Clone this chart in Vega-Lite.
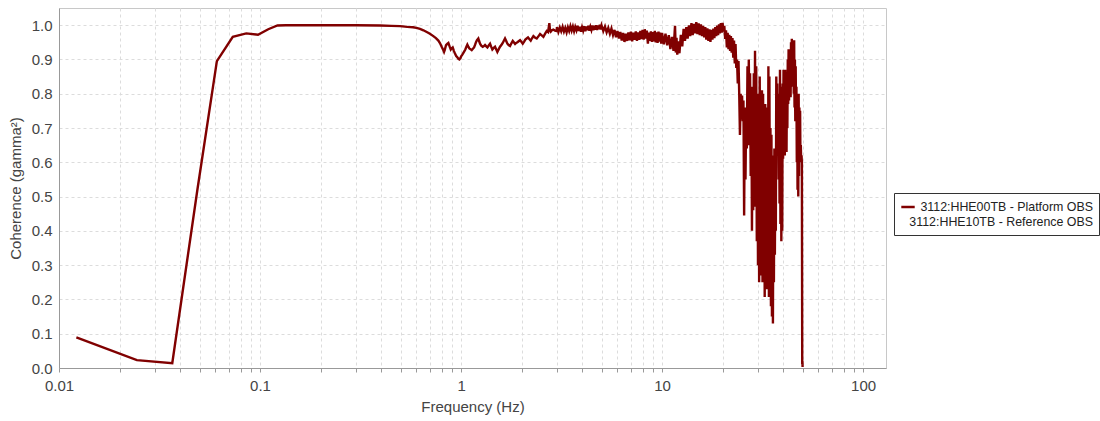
{
  "$schema": "https://vega.github.io/schema/vega-lite/v6.json",
  "width": 827,
  "height": 360,
  "autosize": {"type": "none"},
  "padding": {"left": 59, "top": 8, "right": 214, "bottom": 53},
  "config": {
    "font": "Liberation Sans",
    "view": {"stroke": "#c8c8c8", "strokeWidth": 1},
    "axis": {
      "gridColor": "#dcdcdc",
      "gridDash": [3, 3],
      "gridWidth": 1,
      "domainColor": "#999999",
      "tickColor": "#999999",
      "labelColor": "#444444",
      "titleColor": "#444444",
      "labelFont": "Liberation Sans",
      "titleFont": "Liberation Sans",
      "labelFontSize": 15,
      "titleFontSize": 15,
      "titleFontWeight": "normal"
    },
    "style": {"guide-label": {"lineHeight": 15}}
  },
  "data": {
    "values": [
      {"f": 0.0122, "c": 0.089}, {"f": 0.0244, "c": 0.023}, {"f": 0.0366, "c": 0.014}, {"f": 0.0488, "c": 0.52},
      {"f": 0.061, "c": 0.895}, {"f": 0.0732, "c": 0.966}, {"f": 0.0854, "c": 0.976}, {"f": 0.0977, "c": 0.972},
      {"f": 0.1099, "c": 0.988}, {"f": 0.1221, "c": 0.999}, {"f": 0.1343, "c": 0.9995}, {"f": 0.2, "c": 0.9995},
      {"f": 0.3, "c": 0.9995}, {"f": 0.395, "c": 0.999}, {"f": 0.45, "c": 0.998}, {"f": 0.497, "c": 0.997},
      {"f": 0.54, "c": 0.995}, {"f": 0.577, "c": 0.994}, {"f": 0.6, "c": 0.992}, {"f": 0.625, "c": 0.989},
      {"f": 0.65, "c": 0.985}, {"f": 0.675, "c": 0.98}, {"f": 0.7, "c": 0.975}, {"f": 0.728, "c": 0.968},
      {"f": 0.75, "c": 0.962}, {"f": 0.771, "c": 0.955}, {"f": 0.785, "c": 0.948}, {"f": 0.801, "c": 0.937},
      {"f": 0.812, "c": 0.93}, {"f": 0.823, "c": 0.922}, {"f": 0.83, "c": 0.928}, {"f": 0.842, "c": 0.942},
      {"f": 0.853, "c": 0.945}, {"f": 0.865, "c": 0.948}, {"f": 0.877, "c": 0.938}, {"f": 0.889, "c": 0.929},
      {"f": 0.9, "c": 0.933}, {"f": 0.909, "c": 0.935}, {"f": 0.921, "c": 0.925}, {"f": 0.933, "c": 0.917},
      {"f": 0.946, "c": 0.91}, {"f": 0.958, "c": 0.906}, {"f": 0.97, "c": 0.902}, {"f": 0.981, "c": 0.9},
      {"f": 0.993, "c": 0.904}, {"f": 1.003, "c": 0.91}, {"f": 1.015, "c": 0.914}, {"f": 1.027, "c": 0.919},
      {"f": 1.039, "c": 0.924}, {"f": 1.05, "c": 0.929}, {"f": 1.062, "c": 0.936}, {"f": 1.075, "c": 0.943},
      {"f": 1.087, "c": 0.937}, {"f": 1.1, "c": 0.932}, {"f": 1.112, "c": 0.93}, {"f": 1.13, "c": 0.927},
      {"f": 1.145, "c": 0.931}, {"f": 1.161, "c": 0.935}, {"f": 1.175, "c": 0.943}, {"f": 1.188, "c": 0.951},
      {"f": 1.2, "c": 0.956}, {"f": 1.219, "c": 0.961}, {"f": 1.231, "c": 0.953}, {"f": 1.243, "c": 0.946},
      {"f": 1.26, "c": 0.94}, {"f": 1.282, "c": 0.937}, {"f": 1.3, "c": 0.939}, {"f": 1.316, "c": 0.942},
      {"f": 1.335, "c": 0.938}, {"f": 1.352, "c": 0.935}, {"f": 1.37, "c": 0.94}, {"f": 1.394, "c": 0.946},
      {"f": 1.41, "c": 0.938}, {"f": 1.431, "c": 0.929}, {"f": 1.45, "c": 0.933}, {"f": 1.476, "c": 0.937},
      {"f": 1.495, "c": 0.93}, {"f": 1.516, "c": 0.922}, {"f": 1.54, "c": 0.93}, {"f": 1.563, "c": 0.937},
      {"f": 1.59, "c": 0.943}, {"f": 1.612, "c": 0.948}, {"f": 1.635, "c": 0.955}, {"f": 1.655, "c": 0.961},
      {"f": 1.68, "c": 0.953}, {"f": 1.7, "c": 0.946}, {"f": 1.725, "c": 0.942}, {"f": 1.753, "c": 0.939},
      {"f": 1.78, "c": 0.947}, {"f": 1.808, "c": 0.954}, {"f": 1.83, "c": 0.95}, {"f": 1.857, "c": 0.945},
      {"f": 1.88, "c": 0.948}, {"f": 1.907, "c": 0.95}, {"f": 1.935, "c": 0.953}, {"f": 1.966, "c": 0.956},
      {"f": 2.0, "c": 0.951}, {"f": 2.028, "c": 0.946}, {"f": 2.06, "c": 0.952}, {"f": 2.088, "c": 0.958},
      {"f": 2.12, "c": 0.961}, {"f": 2.154, "c": 0.964}, {"f": 2.19, "c": 0.959}, {"f": 2.221, "c": 0.955},
      {"f": 2.25, "c": 0.961}, {"f": 2.29, "c": 0.968}, {"f": 2.33, "c": 0.964}, {"f": 2.38, "c": 0.961},
      {"f": 2.43, "c": 0.968}, {"f": 2.472, "c": 0.974}, {"f": 2.52, "c": 0.97}, {"f": 2.568, "c": 0.966},
      {"f": 2.62, "c": 0.975}, {"f": 2.669, "c": 0.983}, {"f": 2.71, "c": 0.98}, {"f": 2.75, "c": 1.006},
      {"f": 2.77, "c": 0.985}, {"f": 2.794, "c": 0.981}, {"f": 2.83, "c": 0.985}, {"f": 2.876, "c": 0.987},
      {"f": 2.93, "c": 0.984}, {"f": 2.99, "c": 0.983},
      {"f": 3.0, "c": 0.994}, {"f": 3.05, "c": 0.98}, {"f": 3.1, "c": 0.993}, {"f": 3.15, "c": 0.982},
      {"f": 3.2, "c": 0.995}, {"f": 3.25, "c": 0.981}, {"f": 3.3, "c": 0.992}, {"f": 3.35, "c": 0.979},
      {"f": 3.4, "c": 0.994}, {"f": 3.45, "c": 0.983}, {"f": 3.5, "c": 0.997}, {"f": 3.55, "c": 0.984},
      {"f": 3.6, "c": 0.996}, {"f": 3.65, "c": 0.982}, {"f": 3.7, "c": 0.995}, {"f": 3.75, "c": 0.985},
      {"f": 3.8, "c": 0.998}, {"f": 3.85, "c": 0.983}, {"f": 3.9, "c": 0.995}, {"f": 3.95, "c": 0.981},
      {"f": 4.0, "c": 0.994}, {"f": 4.05, "c": 0.984}, {"f": 4.1, "c": 0.997}, {"f": 4.15, "c": 0.982},
      {"f": 4.2, "c": 0.996}, {"f": 4.25, "c": 0.985}, {"f": 4.3, "c": 0.998}, {"f": 4.35, "c": 0.984},
      {"f": 4.4, "c": 0.995}, {"f": 4.45, "c": 0.986}, {"f": 4.5, "c": 0.999}, {"f": 4.55, "c": 0.985},
      {"f": 4.6, "c": 0.998}, {"f": 4.65, "c": 0.987}, {"f": 4.7, "c": 1.0}, {"f": 4.75, "c": 0.986},
      {"f": 4.8, "c": 0.999}, {"f": 4.85, "c": 0.988}, {"f": 4.9, "c": 1.001}, {"f": 4.95, "c": 0.987},
      {"f": 5.0, "c": 0.999}, {"f": 5.1, "c": 0.983}, {"f": 5.2, "c": 0.996}, {"f": 5.3, "c": 0.979},
      {"f": 5.4, "c": 0.992}, {"f": 5.5, "c": 0.975}, {"f": 5.6, "c": 0.99}, {"f": 5.7, "c": 0.971},
      {"f": 5.8, "c": 0.986}, {"f": 5.9, "c": 0.965}, {"f": 6.0, "c": 0.983}, {"f": 6.1, "c": 0.961},
      {"f": 6.2, "c": 0.98}, {"f": 6.3, "c": 0.955}, {"f": 6.4, "c": 0.977}, {"f": 6.5, "c": 0.951},
      {"f": 6.6, "c": 0.975}, {"f": 6.7, "c": 0.954}, {"f": 6.8, "c": 0.979}, {"f": 6.9, "c": 0.956},
      {"f": 7.0, "c": 0.981}, {"f": 7.1, "c": 0.953}, {"f": 7.2, "c": 0.978}, {"f": 7.3, "c": 0.957},
      {"f": 7.4, "c": 0.982}, {"f": 7.5, "c": 0.954}, {"f": 7.6, "c": 0.979}, {"f": 7.7, "c": 0.957},
      {"f": 7.8, "c": 0.983}, {"f": 7.9, "c": 0.959}, {"f": 8.0, "c": 0.986}, {"f": 8.1, "c": 0.958},
      {"f": 8.2, "c": 0.988}, {"f": 8.3, "c": 0.961}, {"f": 8.4, "c": 0.984}, {"f": 8.5, "c": 0.946},
      {"f": 8.6, "c": 0.978}, {"f": 8.7, "c": 0.954}, {"f": 8.8, "c": 0.982}, {"f": 8.9, "c": 0.951},
      {"f": 9.0, "c": 0.98}, {"f": 9.1, "c": 0.953}, {"f": 9.2, "c": 0.983}, {"f": 9.3, "c": 0.95},
      {"f": 9.4, "c": 0.979}, {"f": 9.5, "c": 0.948}, {"f": 9.6, "c": 0.981}, {"f": 9.7, "c": 0.952},
      {"f": 9.8, "c": 0.978}, {"f": 9.9, "c": 0.946}, {"f": 10.0, "c": 0.977}, {"f": 10.2, "c": 0.944},
      {"f": 10.4, "c": 0.975}, {"f": 10.6, "c": 0.941}, {"f": 10.8, "c": 0.971}, {"f": 11.0, "c": 0.93},
      {"f": 11.2, "c": 0.966}, {"f": 11.4, "c": 0.925}, {"f": 11.6, "c": 0.998}, {"f": 11.7, "c": 0.92},
      {"f": 11.8, "c": 0.963}, {"f": 11.9, "c": 0.914}, {"f": 12.0, "c": 0.953}, {"f": 12.2, "c": 0.918},
      {"f": 12.4, "c": 0.972}, {"f": 12.6, "c": 0.938}, {"f": 12.8, "c": 0.989}, {"f": 13.0, "c": 0.954},
      {"f": 13.2, "c": 0.994}, {"f": 13.4, "c": 0.961}, {"f": 13.6, "c": 0.999}, {"f": 13.8, "c": 0.968},
      {"f": 14.0, "c": 1.006}, {"f": 14.2, "c": 0.971}, {"f": 14.4, "c": 1.004}, {"f": 14.6, "c": 0.976},
      {"f": 14.8, "c": 1.009}, {"f": 15.0, "c": 0.974}, {"f": 15.2, "c": 1.005}, {"f": 15.4, "c": 0.971},
      {"f": 15.6, "c": 1.002}, {"f": 15.8, "c": 0.968}, {"f": 16.0, "c": 0.998}, {"f": 16.2, "c": 0.964},
      {"f": 16.4, "c": 0.994}, {"f": 16.6, "c": 0.958}, {"f": 16.8, "c": 0.991}, {"f": 17.0, "c": 0.954},
      {"f": 17.2, "c": 0.988}, {"f": 17.4, "c": 0.951}, {"f": 17.6, "c": 0.986}, {"f": 17.8, "c": 0.958},
      {"f": 18.0, "c": 0.99}, {"f": 18.2, "c": 0.962}, {"f": 18.4, "c": 0.994}, {"f": 18.6, "c": 0.968},
      {"f": 18.8, "c": 0.999}, {"f": 19.0, "c": 0.971}, {"f": 19.2, "c": 1.002}, {"f": 19.4, "c": 0.976},
      {"f": 19.6, "c": 1.006}, {"f": 19.8, "c": 0.978}, {"f": 20.0, "c": 1.007}, {"f": 20.2, "c": 0.981},
      {"f": 20.4, "c": 0.998}, {"f": 20.6, "c": 0.96}, {"f": 20.8, "c": 0.985}, {"f": 21.0, "c": 0.935},
      {"f": 21.2, "c": 0.978}, {"f": 21.4, "c": 0.93}, {"f": 21.6, "c": 0.972}, {"f": 21.8, "c": 0.925},
      {"f": 22.0, "c": 0.968}, {"f": 22.2, "c": 0.92}, {"f": 22.4, "c": 0.962}, {"f": 22.6, "c": 0.905},
      {"f": 22.8, "c": 0.955}, {"f": 23.0, "c": 0.888}, {"f": 23.2, "c": 0.945}, {"f": 23.4, "c": 0.875},
      {"f": 23.6, "c": 0.9}, {"f": 23.8, "c": 0.83}, {"f": 24.0, "c": 0.895}, {"f": 24.2, "c": 0.8},
      {"f": 24.4, "c": 0.68}, {"f": 24.6, "c": 0.8}, {"f": 24.8, "c": 0.725}, {"f": 25.0, "c": 0.795},
      {"f": 25.2, "c": 0.72}, {"f": 25.4, "c": 0.78}, {"f": 25.6, "c": 0.445}, {"f": 25.8, "c": 0.76},
      {"f": 26.0, "c": 0.55}, {"f": 26.2, "c": 0.745}, {"f": 26.4, "c": 0.64}, {"f": 26.6, "c": 0.88},
      {"f": 26.8, "c": 0.65}, {"f": 27.0, "c": 0.9}, {"f": 27.2, "c": 0.7}, {"f": 27.4, "c": 0.86},
      {"f": 27.6, "c": 0.56}, {"f": 27.8, "c": 0.82}, {"f": 28.0, "c": 0.4}, {"f": 28.2, "c": 0.78},
      {"f": 28.4, "c": 0.46}, {"f": 28.6, "c": 0.86}, {"f": 28.8, "c": 0.52}, {"f": 29.0, "c": 0.925},
      {"f": 29.2, "c": 0.47}, {"f": 29.4, "c": 0.88}, {"f": 29.6, "c": 0.37}, {"f": 29.8, "c": 0.8},
      {"f": 30.0, "c": 0.3}, {"f": 30.2, "c": 0.78}, {"f": 30.4, "c": 0.25}, {"f": 30.6, "c": 0.85},
      {"f": 30.8, "c": 0.36}, {"f": 31.0, "c": 0.674}, {"f": 31.2, "c": 0.27}, {"f": 31.4, "c": 0.81},
      {"f": 31.6, "c": 0.25}, {"f": 31.8, "c": 0.8}, {"f": 32.0, "c": 0.3}, {"f": 32.2, "c": 0.76},
      {"f": 32.4, "c": 0.207}, {"f": 32.6, "c": 0.77}, {"f": 32.8, "c": 0.28}, {"f": 33.0, "c": 0.7},
      {"f": 33.2, "c": 0.23}, {"f": 33.4, "c": 0.76}, {"f": 33.6, "c": 0.33}, {"f": 33.8, "c": 0.88},
      {"f": 34.0, "c": 0.207}, {"f": 34.2, "c": 0.85}, {"f": 34.4, "c": 0.3}, {"f": 34.6, "c": 0.7},
      {"f": 34.8, "c": 0.18}, {"f": 35.0, "c": 0.68}, {"f": 35.2, "c": 0.15}, {"f": 35.4, "c": 0.62},
      {"f": 35.6, "c": 0.13}, {"f": 35.8, "c": 0.6}, {"f": 36.0, "c": 0.25}, {"f": 36.2, "c": 0.64},
      {"f": 36.4, "c": 0.33}, {"f": 36.6, "c": 0.62}, {"f": 36.8, "c": 0.4}, {"f": 37.0, "c": 0.85},
      {"f": 37.2, "c": 0.62}, {"f": 37.4, "c": 0.83}, {"f": 37.6, "c": 0.64}, {"f": 37.8, "c": 0.76},
      {"f": 38.0, "c": 0.55}, {"f": 38.2, "c": 0.8}, {"f": 38.4, "c": 0.48}, {"f": 38.6, "c": 0.87},
      {"f": 38.8, "c": 0.42}, {"f": 39.0, "c": 0.82}, {"f": 39.2, "c": 0.37}, {"f": 39.4, "c": 0.76},
      {"f": 39.6, "c": 0.4}, {"f": 39.8, "c": 0.83}, {"f": 40.0, "c": 0.61}, {"f": 40.2, "c": 0.87},
      {"f": 40.4, "c": 0.64}, {"f": 40.6, "c": 0.85}, {"f": 40.8, "c": 0.62}, {"f": 41.0, "c": 0.87},
      {"f": 41.2, "c": 0.66}, {"f": 41.4, "c": 0.84}, {"f": 41.6, "c": 0.63}, {"f": 41.8, "c": 0.86},
      {"f": 42.0, "c": 0.7}, {"f": 42.2, "c": 0.9}, {"f": 42.4, "c": 0.77}, {"f": 42.6, "c": 0.93},
      {"f": 42.8, "c": 0.78}, {"f": 43.0, "c": 0.92}, {"f": 43.2, "c": 0.8}, {"f": 43.4, "c": 0.93},
      {"f": 43.6, "c": 0.79}, {"f": 43.8, "c": 0.95}, {"f": 44.0, "c": 0.82}, {"f": 44.2, "c": 0.96},
      {"f": 44.4, "c": 0.85}, {"f": 44.6, "c": 0.955}, {"f": 44.8, "c": 0.83}, {"f": 45.0, "c": 0.95},
      {"f": 45.2, "c": 0.8}, {"f": 45.4, "c": 0.956}, {"f": 45.6, "c": 0.76}, {"f": 45.8, "c": 0.9},
      {"f": 46.0, "c": 0.72}, {"f": 46.2, "c": 0.88}, {"f": 46.4, "c": 0.73}, {"f": 46.6, "c": 0.82},
      {"f": 46.8, "c": 0.6}, {"f": 47.0, "c": 0.8}, {"f": 47.2, "c": 0.52}, {"f": 47.4, "c": 0.78},
      {"f": 47.6, "c": 0.5}, {"f": 47.8, "c": 0.8}, {"f": 48.0, "c": 0.56}, {"f": 48.2, "c": 0.76},
      {"f": 48.4, "c": 0.7}, {"f": 48.6, "c": 0.75}, {"f": 48.8, "c": 0.6}, {"f": 49.0, "c": 0.65},
      {"f": 49.2, "c": 0.6}, {"f": 49.4, "c": 0.62}, {"f": 49.6, "c": 0.6}, {"f": 49.8, "c": 0.01},
      {"f": 49.9, "c": 0.02}, {"f": 50.0, "c": 0.003}
    ]
  },
  "mark": {"type": "line", "strokeWidth": 2.4, "clip": true},
  "encoding": {
    "x": {
      "field": "f",
      "type": "quantitative",
      "scale": {"type": "log", "domain": [0.01, 130], "nice": false},
      "axis": {
        "title": "Frequency (Hz)",
        "values": [0.01, 0.02, 0.03, 0.04, 0.05, 0.06, 0.07, 0.08, 0.09,
                   0.1, 0.2, 0.3, 0.4, 0.5, 0.6, 0.7, 0.8, 0.9,
                   1, 2, 3, 4, 5, 6, 7, 8, 9,
                   10, 20, 30, 40, 50, 60, 70, 80, 90, 100],
        "format": "~g",
        "labelExpr": "indexof(['0.01', '0.1', '1', '10', '100'], datum.label) >= 0 ? datum.label : ''",
        "labelOverlap": false,
        "labelFlush": false,
        "tickSize": 4,
        "labelPadding": 6,
        "titlePadding": 6
      }
    },
    "y": {
      "field": "c",
      "type": "quantitative",
      "scale": {"domain": [0, 1.05], "nice": false, "zero": false},
      "axis": {
        "title": "Coherence (gamma²)",
        "values": [0, 0.1, 0.2, 0.3, 0.4, 0.5, 0.6, 0.7, 0.8, 0.9, 1.0],
        "format": ".1f",
        "ticks": false,
        "labelPadding": 7,
        "titlePadding": 8
      }
    },
    "color": {
      "datum": "3112:HHE00TB - Platform OBS|3112:HHE10TB - Reference OBS",
      "scale": {"range": ["#800000"]},
      "legend": {
        "orient": "none",
        "legendX": 835,
        "legendY": 185,
        "title": null,
        "symbolType": "stroke",
        "symbolStrokeWidth": 2.5,
        "symbolSize": 180,
        "strokeColor": "#333333",
        "fillColor": "#ffffff",
        "padding": 6,
        "labelFont": "Liberation Sans",
        "labelFontSize": 12.4,
        "labelColor": "#222222",
        "labelLimit": 300,
        "labelOffset": 177,
        "labelAlign": "right",
        "labelExpr": "split(datum.label, '|')"
      }
    }
  }
}
